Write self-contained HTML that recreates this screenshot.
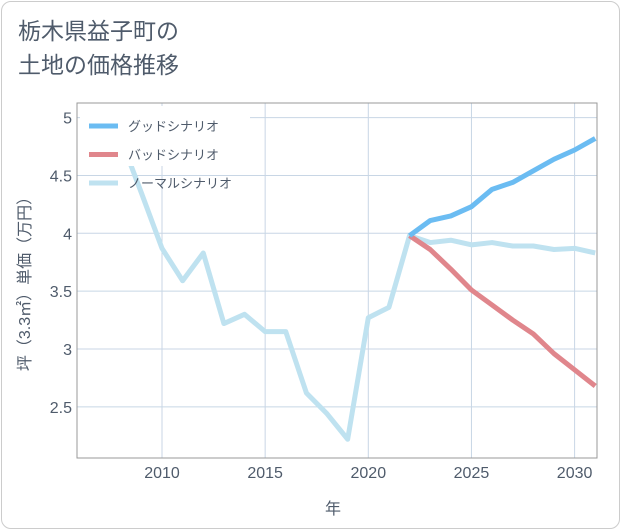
<!DOCTYPE html>
<html><head><meta charset="utf-8"><style>
body{margin:0;background:#fff;font-family:"Liberation Sans","Noto Sans CJK JP",sans-serif;}
#card{position:absolute;left:1px;top:1px;width:617px;height:526px;border:1px solid #ccc;border-radius:10px;background:#fff;}
#title{position:absolute;left:18px;top:14px;font-size:23px;line-height:34px;color:#4f5b6b;}
</style></head><body>
<div id="card"></div>
<div id="title">栃木県益子町の<br>土地の価格推移</div>
<svg id="chart" width="621" height="530" style="position:absolute;left:0;top:0"></svg>
<script>
const years=[2008,2009,2010,2011,2012,2013,2014,2015,2016,2017,2018,2019,2020,2021,2022,2023,2024,2025,2026,2027,2028,2029,2030,2031];
const normalVals=[4.82,4.35,3.87,3.59,3.83,3.22,3.30,3.15,3.15,2.62,2.44,2.22,3.27,3.36,3.98,3.92,3.94,3.90,3.92,3.89,3.89,3.86,3.87,3.83];
const fYears=[2022,2023,2024,2025,2026,2027,2028,2029,2030,2031];
const goodVals=[3.98,4.11,4.15,4.23,4.38,4.44,4.54,4.64,4.72,4.82];
const badVals=[3.98,3.86,3.69,3.51,3.38,3.25,3.13,2.96,2.82,2.68];
const xTicks=[2010,2015,2020,2025,2030];
const yTicks=[2.5,3,3.5,4,4.5,5];
const L=77,R=597,T=103,B=458;
const TXT='#4f5b6b';
const x=v=>162+(v-2010)*20.63;
const y=v=>233.3-(v-4)*115.7;
const svg=document.getElementById('chart');
const NS='http://www.w3.org/2000/svg';
function mk(t,a,p){const e=document.createElementNS(NS,t);for(const k in a)e.setAttribute(k,a[k]);(p||svg).appendChild(e);return e;}
const defs=mk('defs',{});const cp=mk('clipPath',{id:'c'},defs);mk('rect',{x:L,y:T,width:R-L,height:B-T},cp);
xTicks.forEach(t=>{const l=mk('line',{x1:x(t),x2:x(t),y1:T,y2:B,stroke:'#c8d6e5'});
const tx=mk('text',{x:x(t),y:478,'text-anchor':'middle','font-size':16,fill:TXT});tx.textContent=t;});
yTicks.forEach(t=>{const l=mk('line',{x1:L,x2:R,y1:y(t),y2:y(t),stroke:'#c8d6e5'});
const tx=mk('text',{x:72,y:y(t)+6,'text-anchor':'end','font-size':16,fill:TXT});tx.textContent=t;});
const g=mk('g',{'clip-path':'url(#c)'});
function line(xs,vs,col,name){const p=mk('polyline',{points:xs.map((v,i)=>x(v)+','+y(vs[i])).join(' '),fill:'none',stroke:col,'stroke-width':5,'stroke-linejoin':'round'},g);}
line(years,normalVals,'#bfe2f0','normal-scenario-line');
line(fYears,badVals,'#e0868c','bad-scenario-line');
line(fYears,goodVals,'#6bbcf2','good-scenario-line');
const lb=mk('rect',{x:80,y:106,width:170,height:60,fill:'#fff'});
mk('rect',{x:L,y:T,width:R-L,height:B-T,fill:'none',stroke:'#999'});
const leg=[['グッドシナリオ','#6bbcf2'],['バッドシナリオ','#e0868c'],['ノーマルシナリオ','#bfe2f0']];
leg.forEach((d,i)=>{const gy=126+i*28.5;const ge=mk('g',{});
mk('line',{x1:89,x2:118,y1:gy,y2:gy,stroke:d[1],'stroke-width':5},ge);
const t=mk('text',{x:128,y:gy+5,'font-size':13,fill:TXT},ge);t.textContent=d[0];});
const yt=mk('text',{transform:'translate(30,280) rotate(-90)','text-anchor':'middle','font-size':16,fill:TXT});yt.textContent='坪（3.3㎡）単価（万円）';
const xt=mk('text',{x:333,y:514,'text-anchor':'middle','font-size':16,fill:TXT});xt.textContent='年';
</script>
</body></html>
